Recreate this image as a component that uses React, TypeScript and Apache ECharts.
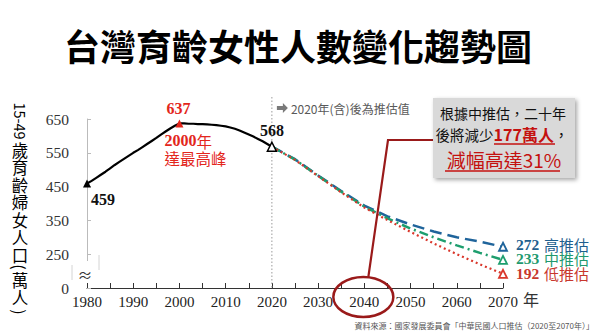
import React, { useEffect, useRef } from "react";
import * as echarts from "echarts";

// ---------- data ----------
const histYears = [
  1980, 1981, 1982, 1983, 1984, 1985, 1986, 1987, 1988, 1989, 1990, 1991, 1992, 1993,
  1994, 1995, 1996, 1997, 1998, 1999, 2000, 2001, 2002, 2003, 2004, 2005, 2006, 2007,
  2008, 2009, 2010, 2011, 2012, 2013, 2014, 2015, 2016, 2017, 2018, 2019, 2020,
];
const histValues = [
  459, 467, 476, 485, 494, 504, 514, 523, 532, 541, 550, 558, 567, 576, 585, 594, 604,
  613, 622, 630, 637, 637, 636, 636, 635, 635, 634, 633, 632, 630, 628, 625, 621, 616,
  610, 604, 598, 591, 584, 576, 568,
];
const projYears = [2020, 2025, 2030, 2035, 2040, 2045, 2050, 2055, 2060, 2065, 2070];
const highValues = [568, 531, 483, 437, 394, 362, 338, 317, 300, 287, 272];
const midValues = [568, 530, 482, 435, 391, 356, 326, 300, 276, 254, 233];
const lowValues = [568, 529, 481, 433, 388, 351, 316, 282, 250, 220, 192];
const projNames = ["高推估", "中推估", "低推估"];
const yTickValues = [150, 250, 350, 450, 550, 650];
const yTickLabels = ["0", "250", "350", "450", "550", "650"];
const peakYear = 2000;

const SERIF = '"Liberation Serif", "Times New Roman", serif';
const SANS = '"Noto Sans CJK TC", "Noto Sans", sans-serif';

const BLUE = "#1f649b";
const GREEN = "#1e9e6e";
const RED = "#d9372b";
const PEAK_RED = "#e3261c";
const DARK_RED = "#9a1a1a";
const BOX_RED = "#c4110f";

function projSeries(name: string, values: number[], color: string, textColor: string, dash: any, width: number, z: number, dy: number) {
  const last = values.length - 1;
  return {
    type: "line",
    name,
    z,
    clip: false,
    symbol: "none",
    lineStyle: { color, width, type: dash },
    itemStyle: { color },
    data: projYears.map((y, i) =>
      i === last
        ? {
            value: [y, values[i]],
            symbol: "triangle",
            symbolSize: 8,
            itemStyle: { color: "#fff", borderColor: color, borderWidth: 1.8 },
            label: {
              show: true,
              position: "right",
              distance: 8,
              offset: [0, dy],
              formatter: `{n|${values[i]}}{t|${name}}`,
              rich: {
                n: { fontFamily: SERIF, fontWeight: "bold", fontSize: 15.5, color: textColor, width: 28, align: "left", lineHeight: 13 },
                t: { fontFamily: SANS, fontSize: 15, color: textColor, align: "left", lineHeight: 13 },
              },
            },
          }
        : [y, values[i]]
    ),
  };
}

export default function App() {
  const ref = useRef<HTMLDivElement>(null);

  useEffect(() => {
    document.body.style.margin = "0";
    const chart = echarts.init(ref.current!, null, { renderer: "svg" });

    const histData = histYears.map((y, i) => {
      const v = histValues[i];
      if (i === 0) {
        return {
          value: [y, v],
          symbol: "triangle",
          symbolSize: 8,
          itemStyle: { color: "#000" },
          label: {
            show: true,
            position: "bottom",
            distance: 4,
            offset: [16, 0],
            formatter: String(v),
            fontFamily: SERIF,
            fontWeight: "bold",
            fontSize: 16,
            color: "#111",
          },
        };
      }
      if (y === peakYear) {
        return {
          value: [y, v],
          symbol: "triangle",
          symbolSize: 8,
          itemStyle: { color: PEAK_RED },
          label: {
            show: true,
            position: "top",
            distance: 3,
            offset: [-1, 0],
            formatter: String(v),
            fontFamily: SERIF,
            fontWeight: "bold",
            fontSize: 16,
            color: PEAK_RED,
          },
        };
      }
      if (i === histYears.length - 1) {
        return {
          value: [y, v],
          symbol: "triangle",
          symbolSize: 9,
          itemStyle: { color: "#fff", borderColor: "#000", borderWidth: 1.5 },
          label: {
            show: true,
            position: "top",
            distance: 3,
            formatter: String(v),
            fontFamily: SERIF,
            fontWeight: "bold",
            fontSize: 16,
            color: "#111",
          },
        };
      }
      return [y, v];
    });

    chart.setOption({
      animation: false,
      grid: { left: 87, right: 94, top: 119, bottom: 48 },
      xAxis: {
        type: "value",
        min: 1980,
        max: 2070,
        interval: 10,
        splitLine: { show: false },
        axisLine: { show: true, lineStyle: { color: "#333", width: 1 } },
        axisTick: { show: true, inside: true, length: 5, lineStyle: { color: "#333" } },
        minorTick: { show: true, splitNumber: 2, length: 5, lineStyle: { color: "#333" } },
        axisLabel: {
          margin: 6,
          fontFamily: SERIF,
          fontSize: 15,
          color: "#222",
          formatter: (v: number) => String(v),
        },
      },
      yAxis: {
        type: "value",
        min: 150,
        max: 650,
        interval: 100,
        splitLine: { show: false },
        axisLine: { show: true, lineStyle: { color: "#bbb", width: 1 } },
        axisTick: { show: true, inside: true, length: 4, lineStyle: { color: "#bbb" } },
        axisLabel: {
          margin: 18,
          fontFamily: SERIF,
          fontSize: 15.5,
          color: "#333",
          formatter: (v: number) => {
            const k = yTickValues.indexOf(v);
            return k >= 0 ? yTickLabels[k] : "";
          },
        },
      },
      series: [
        projSeries(projNames[0], highValues, BLUE, "#1f5f8f", [12, 6], 2.5, 2, -2),
        projSeries(projNames[1], midValues, GREEN, "#22996e", [9, 4, 2, 4], 2.5, 3, -1),
        projSeries(projNames[2], lowValues, RED, "#c8372d", [2, 3], 2.2, 4, 0),
        {
          type: "line",
          name: "hist",
          z: 5,
          clip: false,
          symbol: "none",
          lineStyle: { color: "#000", width: 2.2 },
          itemStyle: { color: "#000" },
          data: histData,
        },
      ],
    });

    const px = (x: number, y: number) => chart.convertToPixel({ gridIndex: 0 } as any, [x, y]) as number[];
    const origin = px(1980, 150);
    const p2020 = px(2020, 650);
    const peak = px(peakYear, histValues[histYears.indexOf(peakYear)]);
    const p2040 = px(2040, 150);
    const p2070 = px(2070, 150);
    const yAx = origin[0];
    const axisY = origin[1];

    const boxL = 433, boxT = 98, boxW = 142, boxH = 80;
    const boxCx = boxL + boxW / 2 - 1;

    const graphic: any[] = [
      // title
      {
        type: "text",
        x: 298,
        y: 45,
        style: {
          text: "台灣育齡女性人數變化趨勢圖",
          fontFamily: SANS,
          fontWeight: "bold",
          fontSize: 36,
          fill: "#000",
          align: "center",
          verticalAlign: "middle",
        },
      },
      // y axis name (vertical)
      {
        type: "text",
        x: 20,
        y: 121,
        rotation: -Math.PI / 2,
        style: { text: "15-49", fontFamily: SANS, fontSize: 14.5, fill: "#000", align: "center", verticalAlign: "middle" },
      },
      {
        type: "text",
        x: 20,
        y: 141,
        style: {
          text: "歲\n育\n齡\n婦\n女\n人\n口",
          fontFamily: SANS,
          fontSize: 16.5,
          lineHeight: 17.5,
          fill: "#000",
          align: "center",
          verticalAlign: "top",
        },
      },
      {
        type: "text",
        x: 20,
        y: 267,
        rotation: -Math.PI / 2,
        style: { text: "(", fontFamily: SANS, fontSize: 16, fill: "#000", align: "center", verticalAlign: "middle" },
      },
      {
        type: "text",
        x: 20,
        y: 271,
        style: {
          text: "萬\n人",
          fontFamily: SANS,
          fontSize: 16.5,
          lineHeight: 17,
          fill: "#000",
          align: "center",
          verticalAlign: "top",
        },
      },
      {
        type: "text",
        x: 20,
        y: 312,
        rotation: -Math.PI / 2,
        style: { text: ")", fontFamily: SANS, fontSize: 16, fill: "#000", align: "center", verticalAlign: "middle" },
      },
      // axis break
      {
        type: "rect",
        z: 50,
        shape: { x: yAx - 10, y: axisY - 27, width: 20, height: 22 },
        style: { fill: "#fff" },
      },
      {
        type: "line",
        z: 51,
        shape: { x1: yAx - 15, y1: axisY - 23, x2: yAx - 15, y2: axisY - 8 },
        style: { stroke: "#d4d4d4", lineWidth: 1 },
      },
      {
        type: "line",
        z: 51,
        shape: { x1: yAx + 12, y1: axisY - 33, x2: yAx + 12, y2: axisY - 18 },
        style: { stroke: "#d4d4d4", lineWidth: 1 },
      },
      {
        type: "text",
        z: 52,
        x: yAx - 2,
        y: axisY - 14,
        style: { text: "≈", fontFamily: SANS, fontSize: 15, fill: "#333", align: "center", verticalAlign: "middle" },
      },
      // 2020 projection divider
      {
        type: "line",
        z: 1,
        shape: { x1: p2020[0], y1: 97, x2: p2020[0], y2: axisY },
        style: { stroke: "#9a9a9a", lineWidth: 1, lineDash: [1.5, 2] },
      },
      {
        type: "polygon",
        shape: {
          points: [
            [p2020[0] + 5, 106],
            [p2020[0] + 11, 106],
            [p2020[0] + 11, 103],
            [p2020[0] + 16, 108],
            [p2020[0] + 11, 113],
            [p2020[0] + 11, 110],
            [p2020[0] + 5, 110],
          ],
        },
        style: { fill: "#7a7a7a" },
      },
      {
        type: "text",
        x: p2020[0] + 19,
        y: 108,
        style: {
          text: "2020年(含)後為推估值",
          fontFamily: SANS,
          fontSize: 12,
          fill: "#595959",
          align: "left",
          verticalAlign: "middle",
        },
      },
      // peak annotation
      {
        type: "text",
        x: peak[0] - 15,
        y: peak[1] + 9,
        style: {
          text: "{n|2000}{c|年}\n{c|達最高峰}",
          align: "left",
          verticalAlign: "top",
          rich: {
            n: { fontFamily: SERIF, fontWeight: "bold", fontSize: 16, fill: PEAK_RED, lineHeight: 17 },
            c: { fontFamily: SANS, fontSize: 15.5, fill: PEAK_RED, lineHeight: 17 },
          },
        },
      },
      // ellipse + connector
      {
        type: "ellipse",
        z: 60,
        shape: { cx: p2040[0] - 1, cy: axisY + 9, rx: 30, ry: 20 },
        style: { fill: "none", stroke: DARK_RED, lineWidth: 2.5 },
      },
      {
        type: "polyline",
        z: 60,
        shape: { points: [[p2040[0] + 4, axisY - 11], [388, 140], [boxL, 140]] },
        style: { fill: "none", stroke: DARK_RED, lineWidth: 2.2 },
      },
      // annotation box
      {
        type: "rect",
        z: 61,
        shape: { x: boxL, y: boxT, width: boxW, height: boxH },
        style: {
          fill: "#d9d9d9",
          shadowBlur: 4,
          shadowOffsetX: 2,
          shadowOffsetY: 2,
          shadowColor: "rgba(0,0,0,0.35)",
        },
      },
      {
        type: "text",
        z: 62,
        x: boxCx,
        y: 113,
        style: { text: "根據中推估，二十年", fontFamily: SANS, fontSize: 14, fill: "#111", align: "center", verticalAlign: "middle" },
      },
      {
        type: "text",
        z: 62,
        x: boxCx - 1,
        y: 134,
        style: {
          text: "{a|後將減少}{b|177萬人}{a|，}",
          align: "center",
          verticalAlign: "middle",
          rich: {
            a: { fontFamily: SANS, fontSize: 14.5, fill: "#111" },
            b: { fontFamily: SANS, fontWeight: "bold", fontSize: 16, fill: BOX_RED },
          },
        },
      },
      {
        type: "line",
        z: 62,
        shape: { x1: 494, y1: 144, x2: 555, y2: 144 },
        style: { stroke: BOX_RED, lineWidth: 1.3 },
      },
      {
        type: "text",
        z: 62,
        x: boxCx + 1,
        y: 159,
        style: { text: "減幅高達31%", fontFamily: SANS, fontSize: 19, fill: BOX_RED, align: "center", verticalAlign: "middle" },
      },
      {
        type: "line",
        z: 62,
        shape: { x1: 445, y1: 171, x2: 560, y2: 171 },
        style: { stroke: BOX_RED, lineWidth: 1.3 },
      },
      // 年 unit after x axis
      {
        type: "text",
        x: p2070[0] + 20,
        y: axisY + 11,
        style: { text: "年", fontFamily: SANS, fontSize: 16, fill: "#333", align: "left", verticalAlign: "middle" },
      },
      // source
      {
        type: "text",
        x: 594,
        y: 325,
        style: {
          text: "資料來源：國家發展委員會「中華民國人口推估（2020至2070年）」",
          fontFamily: SANS,
          fontSize: 8,
          fill: "#555",
          align: "right",
          verticalAlign: "middle",
        },
      },
    ];

    chart.setOption({ graphic });

    return () => chart.dispose();
  }, []);

  return <div ref={ref} style={{ width: 597, height: 336 }} />;
}
